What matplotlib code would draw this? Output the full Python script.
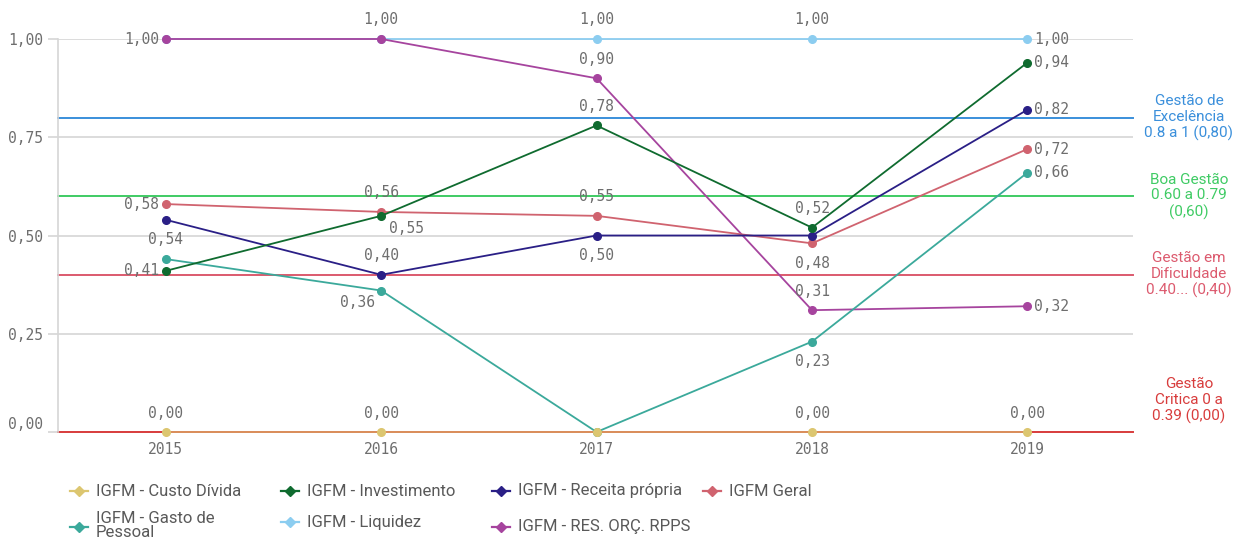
import matplotlib.pyplot as plt
from matplotlib.lines import Line2D
from matplotlib.transforms import blended_transform_factory

# Data
years = ['2015', '2016', '2017', '2018', '2019']

custo_divida = [0.00, 0.00, 0.00, 0.00, 0.00]
gasto_pessoal = [0.44, 0.36, 0.00, 0.23, 0.66]
investimento = [0.41, 0.55, 0.78, 0.52, 0.94]
liquidez = [1.00, 1.00, 1.00, 1.00, 1.00]
receita_propria = [0.54, 0.40, 0.50, 0.50, 0.82]
res_orc_rpps = [1.00, 1.00, 0.90, 0.31, 0.32]
igfm_geral = [0.58, 0.56, 0.55, 0.48, 0.72]

ref_values = [0.80, 0.60, 0.40, 0.00]
ref_labels = ['Gestão de\nExcelência\n0.8 a 1 (0,80)',
              'Boa Gestão\n0.60 a 0.79\n(0,60)',
              'Gestão em\nDificuldade\n0.40... (0,40)',
              'Gestão\nCritica 0 a\n0.39 (0,00)']
ref_colors = ['#3a8fdb', '#3fcb64', '#dc5a6e', '#d83c3c']

MONO = 'DejaVu Sans Mono'
SANS = ['Roboto', 'DejaVu Sans']
GREY = '#6e6e6e'

# (name, values, colour, label placement per year)
series = [
    ('IGFM - Liquidez', liquidez, '#8ccdf0', [None, 'up', 'up', 'up', 'right']),
    ('IGFM - RES. ORÇ. RPPS', res_orc_rpps, '#a6449e', ['left', None, 'up', 'up', 'right']),
    ('IGFM - Gasto de\nPessoal', gasto_pessoal, '#3ba99b', [None, 'downleft', None, 'down', 'right']),
    ('IGFM Geral', igfm_geral, '#d0636f', ['left', 'up', 'up', 'down', 'right']),
    ('IGFM - Receita própria', receita_propria, '#2a1f86', ['down', 'up', 'down', None, 'right']),
    ('IGFM - Investimento', investimento, '#0f6b2f', ['left', 'downright', 'up', 'up', 'right']),
    ('IGFM - Custo Dívida', custo_divida, '#dcc670', ['up', 'up', None, 'up', 'up']),
]

# offsets in pixels -> (dx, dy, ha, va)
placements = {
    'up': (0, 19, 'center', 'center'),
    'down': (0, -20, 'center', 'center'),
    'left': (-7, 0, 'right', 'center'),
    'right': (7, 0, 'left', 'center'),
    'downleft': (-24, -12, 'center', 'center'),
    'downright': (25, -13, 'center', 'center'),
}

fig = plt.figure(figsize=(12.33, 5.4), dpi=100)
ax = fig.add_axes([58 / 1233, 1 - 432 / 540, 1075 / 1233, 393 / 540])

x = list(range(len(years)))
ax.set_xlim(-0.5, 4.49)
ax.set_ylim(0, 1)

ax.set_yticks([0, 0.25, 0.5, 0.75, 1.0])
ax.set_yticklabels(['0,00', '0,25', '0,50', '0,75', '1,00'], fontfamily=MONO,
                   fontsize=10.5, color=GREY)
ax.get_yticklabels()[0].set_va('bottom')
ax.set_xticks(x)
ax.set_xticklabels(years, fontfamily=MONO, fontsize=10.5, color=GREY)
ax.tick_params(axis='y', length=7, color='#d6d6d6', width=1.2, pad=4)
ax.tick_params(axis='x', length=0, pad=7)
ax.grid(axis='y', color='#d9d9d9', linewidth=1.3)
ax.set_axisbelow(True)
for side in ['top', 'right', 'bottom']:
    ax.spines[side].set_visible(False)
ax.spines['left'].set_color('#d6d6d6')
ax.spines['left'].set_linewidth(1.2)

# reference bands
tr = blended_transform_factory(ax.transAxes, ax.transData)
for val, lab, col in zip(ref_values, ref_labels, ref_colors):
    ax.axhline(val, color=col, linewidth=1.4, zorder=2, clip_on=False)
    if val == 0:
        ax.text(1.052, 0.02, lab, transform=tr, ha='center', va='bottom', color=col,
                fontsize=11, family=SANS, linespacing=1.15)
    else:
        ax.text(1.052, val, lab, transform=tr, ha='center', va='center', color=col,
                fontsize=11, family=SANS, linespacing=1.15)

for z, (name, vals, col, places) in enumerate(series):
    # the zero series sits on the red band, so let it blend a little
    alpha = 0.65 if name == 'IGFM - Custo Dívida' else 1.0
    ax.plot(x, vals, color=col, linewidth=1.3, alpha=alpha, zorder=3 + z, clip_on=False)
    ax.plot(x, vals, color=col, linestyle='none', marker='o', markersize=5.5,
            zorder=3 + z, clip_on=False)
    for xi, v, p in zip(x, vals, places):
        if p is None:
            continue
        dx, dy, ha, va = placements[p]
        ax.annotate(f'{v:.2f}'.replace('.', ','), (xi, v), xytext=(dx * 0.72, dy * 0.72),
                    textcoords='offset points', ha=ha, va=va, fontsize=10.5,
                    fontfamily=MONO, color=GREY, zorder=20, annotation_clip=False)

# legend laid out as a grid under the plot
legend_rows = [
    ['IGFM - Custo Dívida', 'IGFM - Investimento', 'IGFM - Receita própria', 'IGFM Geral'],
    ['IGFM - Gasto de\nPessoal', 'IGFM - Liquidez', 'IGFM - RES. ORÇ. RPPS'],
]
colors_by_name = {name: col for name, _, col, _ in series}
row_y = [491, 527]
for r, row in enumerate(legend_rows):
    for c, name in enumerate(row):
        x0 = 70 + c * 211
        y0 = row_y[r]
        if name == 'IGFM - Liquidez':
            y0 -= 5
        yf = 1 - y0 / 540
        fig.add_artist(Line2D([x0 / 1233, (x0 + 9) / 1233, (x0 + 18) / 1233], [yf, yf, yf],
                              color=colors_by_name[name], linewidth=1.6,
                              marker='D', markersize=5.5, markevery=[1],
                              transform=fig.transFigure))
        ty = yf
        va = 'center'
        if '\n' in name:
            ty = 1 - 511 / 540
            va = 'top'
        fig.text((x0 + 26) / 1233, ty, name, ha='left', va=va, fontsize=12,
                 family=SANS, color='#595959', linespacing=0.95)

fig.savefig('out.png', dpi=100)
